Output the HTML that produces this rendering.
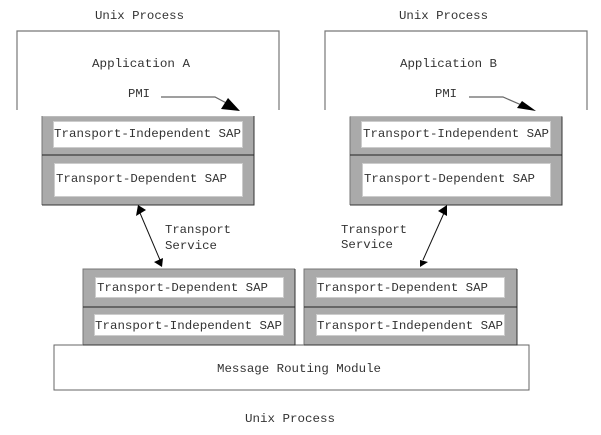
<!DOCTYPE html>
<html>
<head>
<meta charset="utf-8">
<style>
html,body{margin:0;padding:0;background:#fff;width:601px;height:435px;overflow:hidden}
svg{display:block}
text{font-family:"Liberation Mono",monospace;font-size:12.4px;fill:#333}
.g{fill:#aaa;stroke:none}
.w{fill:#fff;stroke:#ccc;stroke-width:1}
.d{stroke:#222;stroke-width:1;fill:none}
.o{fill:none;stroke:#777;stroke-width:1.2}
.a{stroke:#111;stroke-width:1;fill:none}
.h{fill:#000;stroke:none}
.e1{stroke:#bbb;stroke-width:1;fill:none}
.e2{stroke:#777;stroke-width:1;fill:none}
.e3{stroke:#333;stroke-width:1;fill:none}
</style>
</head>
<body>
<svg width="601" height="435" viewBox="0 0 601 435" xmlns="http://www.w3.org/2000/svg">
<rect width="601" height="435" fill="#fff"/>

<path class="o" d="M17 110V31H279V110"/>
<path class="o" d="M325 110V31H587V110"/>

<rect class="g" x="42" y="116" width="212" height="89"/>
<path class="e1" d="M42 116.500H254"/>
<path class="e2" d="M42 116V205"/>
<path class="e3" d="M254 116V205H42"/>
<line class="d" x1="42" y1="155" x2="254" y2="155"/>
<rect class="w" x="53.500" y="121.500" width="189" height="26"/>
<rect class="w" x="54.500" y="163.500" width="188" height="33"/>

<rect class="g" x="350" y="116.500" width="212" height="88.500"/>
<path class="e1" d="M350 116.500H562"/>
<path class="e2" d="M350 116.500V205"/>
<path class="e3" d="M562 116.500V205H350"/>
<line class="d" x1="350" y1="155" x2="562" y2="155"/>
<rect class="w" x="361.500" y="121.500" width="189" height="26"/>
<rect class="w" x="362.500" y="163.500" width="188" height="33"/>

<rect fill="#fff" stroke="#666" stroke-width="1" x="54" y="345" width="475" height="45"/>

<rect class="g" x="83" y="269" width="212" height="76"/>
<path class="e2" d="M83 345V269H295"/>
<path class="e3" d="M295 269V345H83"/>
<line class="d" x1="83" y1="307" x2="295" y2="307"/>
<rect class="w" x="95.500" y="277.500" width="188" height="20"/>
<rect class="w" x="94.500" y="314.500" width="189" height="21"/>

<rect class="g" x="304" y="269" width="213" height="76"/>
<path class="e2" d="M304 345V269H517"/>
<path class="e3" d="M517 269V345H304"/>
<line class="d" x1="304" y1="307" x2="517" y2="307"/>
<rect class="w" x="316.500" y="277.500" width="188" height="20"/>
<rect class="w" x="316.500" y="314.500" width="188" height="21"/>

<path d="M161 97H215L232 106" fill="none" stroke="#666" stroke-width="1.2"/>
<polygon class="h" points="240,111 221,109 228,98"/>
<path d="M469 97H503L526 107" fill="none" stroke="#666" stroke-width="1.2"/>
<polygon class="h" points="536,111 517,108 522,101"/>

<line class="a" x1="140" y1="213" x2="160" y2="260"/>
<polygon class="h" points="138,205 146,210 136,216"/>
<polygon class="h" points="162,267 154,262 163,258"/>
<line class="a" x1="444" y1="213" x2="423" y2="260"/>
<polygon class="h" points="447,205 447,216 438,211"/>
<polygon class="h" points="420,267 420,260 428,262"/>

<text x="95" y="19" textLength="89" lengthAdjust="spacingAndGlyphs">Unix Process</text>
<text x="399" y="19" textLength="89" lengthAdjust="spacingAndGlyphs">Unix Process</text>
<text x="92" y="67" textLength="98" lengthAdjust="spacingAndGlyphs">Application A</text>
<text x="400" y="67" textLength="97" lengthAdjust="spacingAndGlyphs">Application B</text>
<text x="128" y="97" textLength="22" lengthAdjust="spacingAndGlyphs">PMI</text>
<text x="435" y="97" textLength="22" lengthAdjust="spacingAndGlyphs">PMI</text>

<text x="54" y="137" textLength="187" lengthAdjust="spacingAndGlyphs">Transport-Independent SAP</text>
<text x="56" y="182" textLength="171" lengthAdjust="spacingAndGlyphs">Transport-Dependent SAP</text>
<text x="363" y="137" textLength="186" lengthAdjust="spacingAndGlyphs">Transport-Independent SAP</text>
<text x="364" y="182" textLength="171" lengthAdjust="spacingAndGlyphs">Transport-Dependent SAP</text>

<text x="97" y="291" textLength="171" lengthAdjust="spacingAndGlyphs">Transport-Dependent SAP</text>
<text x="95" y="329" textLength="187" lengthAdjust="spacingAndGlyphs">Transport-Independent SAP</text>
<text x="317" y="291" textLength="171" lengthAdjust="spacingAndGlyphs">Transport-Dependent SAP</text>
<text x="317" y="329" textLength="186" lengthAdjust="spacingAndGlyphs">Transport-Independent SAP</text>

<text x="165" y="233" textLength="66" lengthAdjust="spacingAndGlyphs">Transport</text>
<text x="165" y="249" textLength="52" lengthAdjust="spacingAndGlyphs">Service</text>
<text x="341" y="233" textLength="66" lengthAdjust="spacingAndGlyphs">Transport</text>
<text x="341" y="248" textLength="52" lengthAdjust="spacingAndGlyphs">Service</text>

<text x="217" y="372" textLength="164" lengthAdjust="spacingAndGlyphs">Message Routing Module</text>
<text x="245" y="422" textLength="90" lengthAdjust="spacingAndGlyphs">Unix Process</text>
</svg>
</body>
</html>
